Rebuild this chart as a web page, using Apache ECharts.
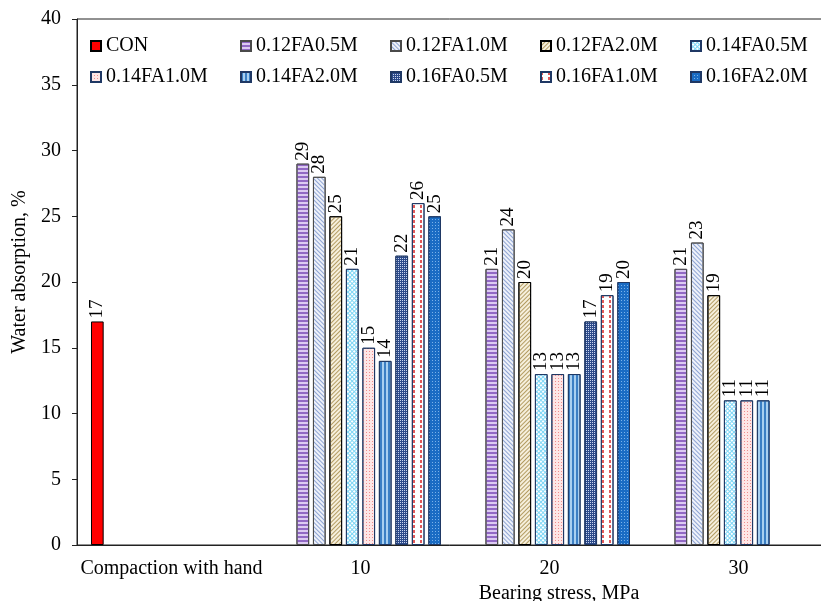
<!DOCTYPE html>
<html>
<head>
<meta charset="utf-8">
<script src="https://cdn.jsdelivr.net/npm/echarts@6/dist/echarts.min.js"></script>
<style>
html,body{margin:0;padding:0;background:#fff;}
#chart{width:821px;height:601px;}
</style>
</head>
<body>
<div id="chart"></div>
<script>
// ---- data ----
const categories = ['Compaction with hand', '10', '20', '30'];
const yTicks = [0, 5, 10, 15, 20, 25, 30, 35, 40];
const seriesNames = ['CON', '0.12FA0.5M', '0.12FA1.0M', '0.12FA2.0M', '0.14FA0.5M',
                     '0.14FA1.0M', '0.14FA2.0M', '0.16FA0.5M', '0.16FA1.0M', '0.16FA2.0M'];
const CON        = [17, null, null, null];
const FA12_05M   = [null, 29, 21, 21];
const FA12_10M   = [null, 28, 24, 23];
const FA12_20M   = [null, 25, 20, 19];
const FA14_05M   = [null, 21, 13, 11];
const FA14_10M   = [null, 15, 13, 11];
const FA14_20M   = [null, 14, 13, 11];
const FA16_05M   = [null, 22, 17, null];
const FA16_10M   = [null, 26, 19, null];
const FA16_20M   = [null, 25, 20, null];
const seriesValues = [CON, FA12_05M, FA12_10M, FA12_20M, FA14_05M, FA14_10M, FA14_20M, FA16_05M, FA16_10M, FA16_20M];

// ---- styles ----
const FONT = '"Liberation Serif", "Times New Roman", serif';
const styles = [
  { color: '#ff0000', borderColor: '#000000' },
  { color: '#dccaf2', borderColor: '#4a4a4a',
    decal: { color: '#9168c4', dashArrayX: [1, 0], dashArrayY: [2, 2] } },
  { color: '#eef1f9', borderColor: '#4a4a4a',
    decal: { color: '#8ea4d4', dashArrayX: [1, 0], dashArrayY: [1, 2], rotation: Math.PI / 4 } },
  { color: '#f6efdc', borderColor: '#000000',
    decal: { color: '#b39c62', dashArrayX: [1, 0], dashArrayY: [1, 2], rotation: -Math.PI / 4 } },
  { color: '#7fd6f5', borderColor: '#1f3864',
    decal: { color: '#ffffff', dashArrayX: [2, 1], dashArrayY: [2, 1], rotation: Math.PI / 4 } },
  { color: '#fde6e6', borderColor: '#1f3864',
    decal: { color: '#f08c8c', dashArrayX: [1, 2], dashArrayY: [1, 2] } },
  { color: '#a9d0f0', borderColor: '#1f3864',
    decal: { color: '#3b7fc4', dashArrayX: [2, 2], dashArrayY: [1, 0] } },
  { color: '#2c4a8a', borderColor: '#1f3864',
    decal: { color: '#c8d4ee', dashArrayX: [1, 1], dashArrayY: [1, 1] } },
  { color: '#ffffff', borderColor: '#1f3864',
    decal: { color: '#e25a5a', dashArrayX: [1.5, 4.5], dashArrayY: [3, 2] } },
  { color: '#1a6cc4', borderColor: '#1f3864',
    decal: { color: '#7ab2ea', dashArrayX: [1, 2], dashArrayY: [1, 2] } }
];

const series = seriesNames.map((name, i) => ({
  name: name,
  type: 'bar',
  data: seriesValues[i],
  barGap: '30%',
  barCategoryGap: '14.8%',
  itemStyle: Object.assign({ borderWidth: 1 }, styles[i]),
  label: {
    show: true,
    position: 'top',
    rotate: 90,
    align: 'left',
    verticalAlign: 'middle',
    distance: 3,
    color: '#000',
    fontFamily: FONT,
    fontSize: 19
  }
}));

// one legend per item, laid out on a 5-column grid
const legends = seriesNames.map((name, i) => ({
  left: 85 + (i % 5) * 150,
  top: i < 5 ? 31 : 62,
  orient: 'horizontal',
  itemWidth: 10,
  itemHeight: 10,
  icon: 'rect',
  data: [name],
  textStyle: { fontFamily: FONT, fontSize: 20, color: '#000' }
}));

const option = {
  animation: false,
  backgroundColor: '#ffffff',
  legend: legends,
  grid: {
    left: 77, top: 19, right: -12, bottom: 56,
    containLabel: false,
    outerBoundsMode: 'none',
    show: true, borderColor: '#222', borderWidth: 1, backgroundColor: 'transparent'
  },
  xAxis: {
    type: 'category',
    data: categories,
    name: 'Bearing stress, MPa',
    nameLocation: 'middle',
    nameGap: 36,
    nameTextStyle: { fontFamily: FONT, fontSize: 20, color: '#000', padding: [0, 0, 0, 208] },
    axisLine: { show: true, lineStyle: { color: '#222', width: 1 } },
    axisTick: { show: false },
    axisLabel: { interval: 0, fontFamily: FONT, fontSize: 20, color: '#000', margin: 14 },
    splitLine: { show: false }
  },
  yAxis: {
    type: 'value',
    min: yTicks[0],
    max: yTicks[yTicks.length - 1],
    interval: yTicks[1] - yTicks[0],
    name: 'Water absorption, %',
    nameLocation: 'middle',
    nameGap: 44,
    nameTextStyle: { fontFamily: FONT, fontSize: 20, color: '#000', padding: [0, 0, 0, 20] },
    axisLine: { show: true, lineStyle: { color: '#222', width: 1 } },
    axisTick: { show: true, inside: false, length: 5, lineStyle: { color: '#222' } },
    axisLabel: { fontFamily: FONT, fontSize: 20, color: '#000', margin: 16 },
    splitLine: { show: false }
  },
  series: series
};

const chart = echarts.init(document.getElementById('chart'), null, { renderer: 'canvas' });
chart.setOption(option);
</script>
</body>
</html>
